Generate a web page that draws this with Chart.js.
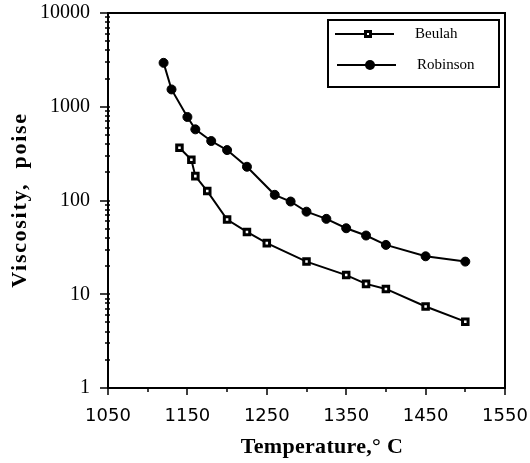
<!DOCTYPE html>
<html>
<head>
<meta charset="utf-8">
<script src="https://cdn.jsdelivr.net/npm/chart.js@4"></script>
<style>
html,body{margin:0;padding:0;background:#fff;}
#wrap{width:530px;height:463px;}
</style>
</head>
<body>
<div id="wrap"><canvas id="viscChart"></canvas></div>
<script>
const beulahTemp = [1140, 1155, 1160, 1175, 1200, 1225, 1250, 1300, 1350, 1375, 1400, 1450, 1500];
const beulahVisc = [366, 272, 182, 126, 62.6, 46.2, 35.1, 22.3, 16.0, 12.9, 11.4, 7.4, 5.1];
const robinsonTemp = [1120, 1130, 1150, 1160, 1180, 1200, 1225, 1260, 1280, 1300, 1325, 1350, 1375, 1400, 1450, 1500];
const robinsonVisc = [2940, 1530, 778, 574, 431, 345, 229, 115, 97.5, 76, 63.7, 50.6, 42.3, 33.6, 25.4, 22.3];
const xTickLabels = [1050, 1150, 1250, 1350, 1450, 1550];
const yTickLabels = [1, 10, 100, 1000, 10000];
const xTitle = 'Temperature,° C';
const yTitle = 'Viscosity,  poise';

const toPoints = (xs, ys) => xs.map((x, i) => ({x: x, y: ys[i]}));

// frame, minor ticks, axis titles and the boxed legend
const framePlugin = {
    id: 'frame',
    afterDraw(chart) {
        const {ctx, chartArea: a, scales: {x, y}} = chart;
        ctx.save();
        ctx.strokeStyle = '#000';
        ctx.lineWidth = 2;
        ctx.beginPath();
        ctx.moveTo(a.left, a.bottom);
        ctx.lineTo(a.left, a.top);
        ctx.lineTo(a.right, a.top);
        ctx.lineTo(a.right, a.bottom);
        ctx.closePath();
        ctx.stroke();

        ctx.lineWidth = 1.5;
        ctx.beginPath();
        for (let v = x.min; v <= x.max; v += 50) {
            const px = Math.round(x.getPixelForValue(v));
            const len = xTickLabels.includes(v) ? 7 : 4;
            ctx.moveTo(px, a.bottom);
            ctx.lineTo(px, a.bottom + len);
        }
        for (let d = 1; d < 10000; d *= 10) {
            for (let k = 1; k < 10; k++) {
                const py = Math.round(y.getPixelForValue(k * d));
                ctx.moveTo(a.left - (k === 1 ? 8 : 3), py);
                ctx.lineTo(a.left + 2, py);
            }
        }
        const ptop = Math.round(y.getPixelForValue(10000));
        ctx.moveTo(a.left - 8, ptop);
        ctx.lineTo(a.left, ptop);
        ctx.stroke();

        // axis titles
        ctx.fillStyle = '#000';
        ctx.textAlign = 'center';
        ctx.textBaseline = 'middle';
        ctx.font = 'bold 22px "Liberation Serif"';
        ctx.letterSpacing = '0.3px';
        ctx.fillText(xTitle, 322, 447);
        ctx.save();
        ctx.translate(20, 200);
        ctx.rotate(-Math.PI / 2);
        ctx.letterSpacing = '1.7px';
        ctx.fillText(yTitle, 0, 0);
        ctx.restore();
        ctx.letterSpacing = '0px';

        // legend
        ctx.lineWidth = 2;
        ctx.strokeRect(328, 20, 171, 67);
        const rows = [
            {label: 'Beulah', y: 34, x0: 335, x1: 394, mx: 368, tx: 415},
            {label: 'Robinson', y: 65, x0: 337, x1: 396, mx: 370, tx: 417}
        ];
        rows.forEach((r, i) => {
            ctx.lineWidth = 2;
            ctx.beginPath();
            ctx.moveTo(r.x0, r.y);
            ctx.lineTo(r.x1, r.y);
            ctx.stroke();
            if (i === 0) {
                ctx.fillStyle = '#fff';
                ctx.lineWidth = 3;
                ctx.beginPath();
                ctx.rect(r.mx - 2.5, r.y - 2.5, 5, 5);
                ctx.fill();
                ctx.stroke();
            } else {
                ctx.fillStyle = '#000';
                ctx.beginPath();
                ctx.arc(r.mx, r.y, 5, 0, Math.PI * 2);
                ctx.fill();
            }
            ctx.fillStyle = '#000';
            ctx.font = '15px "Liberation Serif"';
            ctx.textBaseline = 'middle';
            ctx.textAlign = 'left';
            ctx.fillText(r.label, r.tx, r.y);
        });
        ctx.restore();
    }
};

new Chart(document.getElementById('viscChart'), {
    type: 'line',
    data: {
        datasets: [{
            label: 'Beulah',
            data: toPoints(beulahTemp, beulahVisc),
            borderColor: '#000',
            borderWidth: 2,
            pointStyle: 'rect',
            pointRadius: 3.9,
            pointBorderWidth: 3,
            pointBackgroundColor: '#fff',
            pointBorderColor: '#000',
            tension: 0
        },
        {
            label: 'Robinson',
            data: toPoints(robinsonTemp, robinsonVisc),
            borderColor: '#000',
            borderWidth: 2,
            pointStyle: 'circle',
            pointRadius: 4.5,
            pointBorderWidth: 1,
            pointBackgroundColor: '#000',
            pointBorderColor: '#000',
            tension: 0
        }]
    },
    options: {
        responsive: true,
        maintainAspectRatio: false,
        animation: false,
        layout: {padding: {top: 13, right: 25, left: 0, bottom: 0}},
        plugins: {
            legend: {display: false},
            tooltip: {enabled: false}
        },
        scales: {
            x: {
                type: 'linear',
                min: 1050,
                max: 1550,
                afterBuildTicks: s => { s.ticks = xTickLabels.map(v => ({value: v})); },
                afterFit: s => { s.height = 75; s.paddingLeft = 0; s.paddingRight = 0; },
                grid: {display: false},
                border: {display: false},
                ticks: {
                    autoSkip: false,
                    maxRotation: 0,
                    padding: 10,
                    color: '#000',
                    font: {family: '"DejaVu Sans"', size: 18},
                    callback: v => String(v)
                },
                title: {display: false}
            },
            y: {
                type: 'logarithmic',
                min: 1,
                max: 10000,
                afterBuildTicks: s => { s.ticks = yTickLabels.map(v => ({value: v})); },
                afterFit: s => { s.width = 108; s.paddingTop = 0; s.paddingBottom = 0; },
                grid: {display: false},
                border: {display: false},
                ticks: {
                    autoSkip: false,
                    padding: 10,
                    color: '#000',
                    font: {family: '"Liberation Serif"', size: 20},
                    callback: v => String(v)
                },
                title: {display: false}
            }
        }
    },
    plugins: [framePlugin]
});
</script>
</body>
</html>
